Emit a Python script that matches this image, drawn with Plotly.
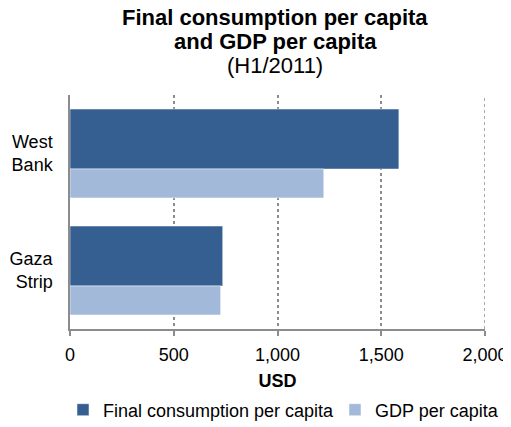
import plotly.graph_objects as go

categories = ["West Bank", "Gaza Strip"]
tick_labels = ["West<br>Bank", "Gaza<br>Strip"]
consumption = [1585, 736]
gdp = [1223, 726]
series_names = ["Final consumption per capita", "GDP per capita"]
x_ticks = [0, 500, 1000, 1500, 2000]

DARK = "#355E91"
LIGHT = "#A2B9DA"
GRAY = "#8C8C8C"
FONT = "Liberation Sans, Arial, sans-serif"

# page body has an 8px margin; figure is sized to end at the window edge
FIG_W, FIG_H = 503, 419

fig = go.Figure()
fig.add_trace(go.Bar(
    y=categories, x=consumption, orientation="h", name=series_names[0],
    marker=dict(color=DARK, line=dict(color="white", width=0.5)),
    width=0.513, offset=-0.133, legend="legend",
))
fig.add_trace(go.Bar(
    y=categories, x=gdp, orientation="h", name=series_names[1],
    marker=dict(color=LIGHT, line=dict(color="white", width=0.5)),
    width=0.248, offset=-0.38, legend="legend2",
))

leg_common = dict(orientation="h", xref="container", yref="container",
                  xanchor="left", y=1 - 402 / FIG_H, yanchor="middle",
                  font=dict(size=18), bgcolor="rgba(0,0,0,0)")

fig.update_layout(
    width=FIG_W, height=FIG_H,
    margin=dict(l=62, r=26, t=87, b=98, autoexpand=False),
    paper_bgcolor="white", plot_bgcolor="white",
    barmode="overlay",
    font=dict(family=FONT, size=18, color="black"),
    showlegend=True,
    legend=dict(x=55 / FIG_W, **leg_common),
    legend2=dict(x=327 / FIG_W, **leg_common),
    xaxis=dict(
        range=[0, 2000], tickvals=x_ticks, tickformat=",",
        ticks="outside", ticklen=5, tickwidth=1.5, tickcolor=GRAY,
        showline=True, linecolor=GRAY, linewidth=1.5,
        showgrid=True, gridcolor=GRAY, griddash="dot", gridwidth=1.5,
        zeroline=False, fixedrange=True, automargin=False,
        ticklabelstandoff=4, ticklabeloverflow="allow",
        title=dict(text="<b>USD</b>", font=dict(size=18), standoff=22),
        tickfont=dict(size=18),
    ),
    yaxis=dict(
        type="category", categoryorder="array",
        categoryarray=list(reversed(categories)), range=[-0.5, 1.5],
        tickvals=categories, ticktext=tick_labels,
        showline=True, linecolor=GRAY, linewidth=1.5,
        showgrid=False, zeroline=False, ticks="", ticklabelstandoff=12,
        tickfont=dict(size=18), fixedrange=True, automargin=False,
    ),
)

# plotly drops the gridline at the range end; draw it at the last tick value
fig.add_shape(type="line", xref="x", yref="paper",
              x0=x_ticks[-1], x1=x_ticks[-1], y0=0, y1=1,
              line=dict(color=GRAY, width=1.5, dash="dot"), layer="below")

title_lines = [
    ("<b>Final consumption per capita</b>", 78),
    ("<b>and GDP per capita</b>", 54),
    ("(H1/2011)", 30),
]
for text, shift in title_lines:
    fig.add_annotation(text=text, xref="paper", yref="paper", x=0.494, y=1,
                       xanchor="center", yanchor="middle", yshift=shift,
                       showarrow=False, font=dict(size=22, family=FONT, color="black"))

fig.write_html("out.html")
